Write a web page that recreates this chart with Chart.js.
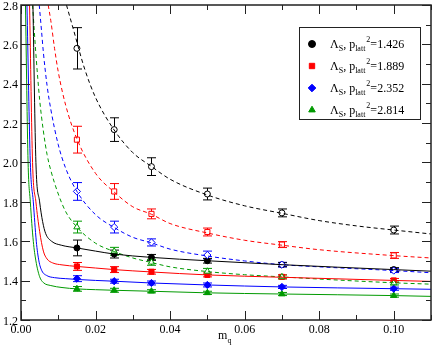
<!DOCTYPE html>
<html lang="en">
<head>
<meta charset="UTF-8">
<title>Lambda_S vs m_q</title>
<script src="https://cdn.jsdelivr.net/npm/chart.js@4.4.1/dist/chart.umd.min.js"></script>
<style>
  body { margin: 0; background: #fff; }
  #c { display: block; }
</style>
</head>
<body>
<canvas id="c" width="436" height="353"></canvas>
<script>
// quark masses of the measured points
const mq = [0.015, 0.025, 0.035, 0.05, 0.07, 0.10];

// filled symbols (solid fits)
const fill1426 = [1.566, 1.535, 1.518, 1.501, 1.481, 1.456];
const fill1889 = [1.472, 1.456, 1.445, 1.429, 1.419, 1.401];
const fill2352 = [1.410, 1.397, 1.388, 1.378, 1.368, 1.359];
const fill2814 = [1.358, 1.351, 1.346, 1.338, 1.332, 1.324];
const fillErr1426 = [0.040, 0.020, 0.015, 0.012, 0.010, 0.010];
const fillErr1889 = [0.020, 0.015, 0.012, 0.010, 0.010, 0.010];
const fillErr2352 = [0.015, 0.010, 0.010, 0.010, 0.008, 0.008];
const fillErr2814 = [0.012, 0.010, 0.008, 0.008, 0.008, 0.008];

// open symbols (dashed fits)
const open1426 = [2.580, 2.167, 1.979, 1.840, 1.744, 1.657];
const open1889 = [2.116, 1.853, 1.739, 1.647, 1.583, 1.528];
const open2352 = [1.853, 1.672, 1.594, 1.530, 1.481, 1.451];
const open2814 = [1.672, 1.549, 1.493, 1.447, 1.419, 1.388];
const openErr1426 = [0.105, 0.060, 0.045, 0.030, 0.020, 0.020];
const openErr1889 = [0.068, 0.040, 0.025, 0.020, 0.015, 0.015];
const openErr2352 = [0.045, 0.030, 0.018, 0.020, 0.012, 0.010];
const openErr2814 = [0.030, 0.020, 0.015, 0.015, 0.010, 0.010];

// fit curves
const solid1426X = [0.0032, 0.0040, 0.0050, 0.0058, 0.0066, 0.0082, 0.0108, 0.015, 0.02, 0.025, 0.035, 0.05, 0.07, 0.10, 0.11];
const solid1426Y = [2.80, 2.00, 1.80, 1.70, 1.64, 1.60, 1.58, 1.566, 1.55, 1.535, 1.518, 1.501, 1.481, 1.456, 1.448];
const solid1889X = [0.0023, 0.0031, 0.0040, 0.0050, 0.0060, 0.0070, 0.0085, 0.011, 0.015, 0.02, 0.025, 0.035, 0.05, 0.07, 0.10, 0.11];
const solid1889Y = [2.80, 2.00, 1.80, 1.65, 1.55, 1.51, 1.49, 1.48, 1.472, 1.464, 1.456, 1.444, 1.429, 1.417, 1.401, 1.396];
const solid2352X = [0.0016, 0.0025, 0.0033, 0.0041, 0.0048, 0.0056, 0.007, 0.009, 0.012, 0.015, 0.02, 0.025, 0.035, 0.05, 0.07, 0.10, 0.11];
const solid2352Y = [2.80, 2.00, 1.80, 1.60, 1.50, 1.45, 1.425, 1.415, 1.41, 1.406, 1.401, 1.397, 1.388, 1.378, 1.368, 1.359, 1.356];
const solid2814X = [0.0012, 0.0019, 0.0025, 0.0033, 0.0040, 0.005, 0.006, 0.008, 0.011, 0.015, 0.02, 0.025, 0.035, 0.05, 0.07, 0.10, 0.11];
const solid2814Y = [2.80, 2.00, 1.80, 1.60, 1.50, 1.42, 1.39, 1.375, 1.365, 1.358, 1.354, 1.351, 1.346, 1.338, 1.332, 1.324, 1.320];

const dash1426X = [0.0122, 0.014, 0.017, 0.02, 0.025, 0.03, 0.035, 0.04, 0.05, 0.06, 0.07, 0.08, 0.09, 0.10, 0.11];
const dash1426Y = [2.80, 2.68, 2.48, 2.33, 2.165, 2.05, 1.98, 1.915, 1.835, 1.78, 1.742, 1.705, 1.678, 1.657, 1.637];
const dash1889X = [0.0073, 0.008, 0.009, 0.01, 0.012, 0.015, 0.02, 0.025, 0.03, 0.035, 0.04, 0.05, 0.06, 0.07, 0.08, 0.10, 0.11];
const dash1889Y = [2.80, 2.72, 2.58, 2.46, 2.29, 2.12, 1.945, 1.85, 1.775, 1.737, 1.69, 1.642, 1.605, 1.58, 1.557, 1.527, 1.515];
const dash2352X = [0.0049, 0.0055, 0.006, 0.007, 0.008, 0.01, 0.012, 0.015, 0.02, 0.025, 0.03, 0.035, 0.04, 0.05, 0.06, 0.07, 0.08, 0.10, 0.11];
const dash2352Y = [2.80, 2.67, 2.56, 2.39, 2.27, 2.09, 1.97, 1.853, 1.735, 1.67, 1.62, 1.592, 1.56, 1.525, 1.50, 1.481, 1.47, 1.451, 1.44];
const dash2814X = [0.0031, 0.004, 0.005, 0.006, 0.007, 0.008, 0.01, 0.012, 0.015, 0.02, 0.025, 0.03, 0.035, 0.04, 0.05, 0.06, 0.07, 0.08, 0.10, 0.11];
const dash2814Y = [2.80, 2.55, 2.32, 2.16, 2.04, 1.96, 1.84, 1.75, 1.672, 1.59, 1.548, 1.515, 1.492, 1.47, 1.446, 1.43, 1.419, 1.408, 1.389, 1.382];

// legend values and ticks
const pLatt2 = ['1.426', '1.889', '2.352', '2.814'];
const xMajor = [0, 0.02, 0.04, 0.06, 0.08, 0.10];
const xMinor = [0.01, 0.03, 0.05, 0.07, 0.09, 0.11];
const yMajor = [1.2, 1.4, 1.6, 1.8, 2.0, 2.2, 2.4, 2.6, 2.8];
const yMinor = [1.3, 1.5, 1.7, 1.9, 2.1, 2.3, 2.5, 2.7];

const colors = ['#000000', '#ff0000', '#0000ff', '#009a00'];
const shapes = ['circle', 'rect', 'rectRot', 'triangle'];
const serif = '"Liberation Serif", "Times New Roman", serif';

const pts = (xs, ys) => xs.map((x, i) => ({ x: x, y: ys[i] }));

const curves = [
  [solid1426X, solid1426Y, 0, false], [solid1889X, solid1889Y, 1, false],
  [solid2352X, solid2352Y, 2, false], [solid2814X, solid2814Y, 3, false],
  [dash1426X, dash1426Y, 0, true], [dash1889X, dash1889Y, 1, true],
  [dash2352X, dash2352Y, 2, true], [dash2814X, dash2814Y, 3, true]
];
const series = [
  [open1426, openErr1426, 0, true], [open1889, openErr1889, 1, true],
  [open2352, openErr2352, 2, true], [open2814, openErr2814, 3, true],
  [fill1426, fillErr1426, 0, false], [fill1889, fillErr1889, 1, false],
  [fill2352, fillErr2352, 2, false], [fill2814, fillErr2814, 3, false]
];

const datasets = [];
curves.forEach(([xs, ys, k, dashed]) => {
  datasets.push({
    type: 'line', data: pts(xs, ys), borderColor: colors[k], borderWidth: 1,
    borderDash: dashed ? [4, 3] : [], pointRadius: 0, fill: false,
    cubicInterpolationMode: 'monotone', showLine: true
  });
});
series.forEach(([ys, errs, k, open]) => {
  datasets.push({
    type: 'scatter', data: pts(mq, ys), errors: errs, showLine: false,
    pointStyle: shapes[k], pointRadius: k === 0 ? 3 : 3.6,
    borderColor: colors[k], borderWidth: 1,
    backgroundColor: open ? '#ffffff' : colors[k]
  });
});

const frame = {
  id: 'frame',
  beforeDatasetsDraw(chart) {
    // error bars below the symbols
    const ctx = chart.ctx, xs = chart.scales.x, ys = chart.scales.y;
    ctx.save();
    ctx.lineWidth = 1;
    chart.data.datasets.forEach(ds => {
      if (!ds.errors) return;
      ctx.strokeStyle = ds.borderColor;
      ds.data.forEach((p, i) => {
        const px = Math.round(xs.getPixelForValue(p.x)) + 0.5;
        const y1 = ys.getPixelForValue(p.y + ds.errors[i]);
        const y2 = ys.getPixelForValue(p.y - ds.errors[i]);
        ctx.beginPath();
        ctx.moveTo(px, y1); ctx.lineTo(px, y2);
        ctx.moveTo(px - 4.5, y1); ctx.lineTo(px + 4.5, y1);
        ctx.moveTo(px - 4.5, y2); ctx.lineTo(px + 4.5, y2);
        ctx.stroke();
      });
    });
    ctx.restore();
  },
  afterDraw(chart) {
    const ctx = chart.ctx, a = chart.chartArea;
    const xs = chart.scales.x, ys = chart.scales.y;
    ctx.save();
    ctx.strokeStyle = '#222';
    ctx.lineWidth = 1.5;
    ctx.strokeRect(a.left, a.top, a.right - a.left, a.bottom - a.top);
    ctx.lineWidth = 1;
    ctx.beginPath();
    const xt = (v, len) => {
      const px = Math.round(xs.getPixelForValue(v)) + 0.5;
      ctx.moveTo(px, a.bottom); ctx.lineTo(px, a.bottom - len);
      ctx.moveTo(px, a.top); ctx.lineTo(px, a.top + len);
    };
    const yt = (v, len) => {
      const py = Math.round(ys.getPixelForValue(v)) + 0.5;
      ctx.moveTo(a.left, py); ctx.lineTo(a.left + len, py);
      ctx.moveTo(a.right, py); ctx.lineTo(a.right - len, py);
    };
    xMajor.forEach(v => xt(v, 9)); xMinor.forEach(v => xt(v, 5));
    yMajor.forEach(v => yt(v, 9)); yMinor.forEach(v => yt(v, 5));
    ctx.stroke();

    // tick labels
    ctx.fillStyle = '#000';
    ctx.font = '12px ' + serif;
    ctx.textAlign = 'right'; ctx.textBaseline = 'middle';
    yMajor.forEach(v => ctx.fillText(v.toFixed(1), a.left - 3, ys.getPixelForValue(v) + 1.5));
    ctx.textAlign = 'center'; ctx.textBaseline = 'top';
    xMajor.forEach(v => ctx.fillText(v.toFixed(2), xs.getPixelForValue(v), a.bottom + 4));

    // axis title m_q
    ctx.textAlign = 'left'; ctx.textBaseline = 'alphabetic';
    ctx.font = '12px ' + serif;
    ctx.fillText('m', 218, 339);
    ctx.font = '8px ' + serif;
    ctx.fillText('q', 227.5, 343);

    // legend
    ctx.fillStyle = '#fff';
    ctx.fillRect(299, 27, 122, 93);
    ctx.strokeStyle = '#222'; ctx.lineWidth = 1;
    ctx.strokeRect(299.5, 27.5, 121, 92);
    pLatt2.forEach((val, k) => {
      const y = 44 + k * 22;
      ctx.fillStyle = colors[k]; ctx.strokeStyle = colors[k];
      Chart.helpers.drawPoint(ctx, {
        pointStyle: shapes[k], radius: k === 0 ? 3.5 : 3.8, rotation: 0, borderWidth: 1
      }, 312, y);
      ctx.fillStyle = '#000';
      let x = 330;
      const base = y + 4;
      ctx.font = '12px ' + serif; ctx.fillText('\u039b', x, base); x += ctx.measureText('\u039b').width;
      ctx.font = '8px ' + serif; ctx.fillText('S', x, base + 3); x += ctx.measureText('S').width;
      ctx.font = '12px ' + serif; ctx.fillText(', p', x, base); x += ctx.measureText(', p').width;
      ctx.font = '8px ' + serif; ctx.fillText('latt', x, base + 3); x += ctx.measureText('latt').width + 1;
      ctx.fillText('2', x, base - 6); x += ctx.measureText('2').width;
      ctx.font = '12px ' + serif; ctx.fillText('=' + val, x, base);
    });
    ctx.restore();
  }
};

new Chart(document.getElementById('c'), {
  type: 'scatter',
  data: { datasets: datasets },
  options: {
    responsive: false,
    animation: false,
    layout: { padding: { top: 5, right: 1, left: 0, bottom: 0 } },
    plugins: { legend: { display: false }, tooltip: { enabled: false } },
    scales: {
      x: {
        type: 'linear', min: 0, max: 0.11,
        grid: { display: false }, border: { display: false },
        ticks: { display: false },
        afterFit: s => { s.height = 33; }
      },
      y: {
        type: 'linear', min: 1.2, max: 2.8,
        grid: { display: false }, border: { display: false },
        ticks: { display: false },
        afterFit: s => { s.width = 21; }
      }
    }
  },
  plugins: [frame]
});
</script>
</body>
</html>
